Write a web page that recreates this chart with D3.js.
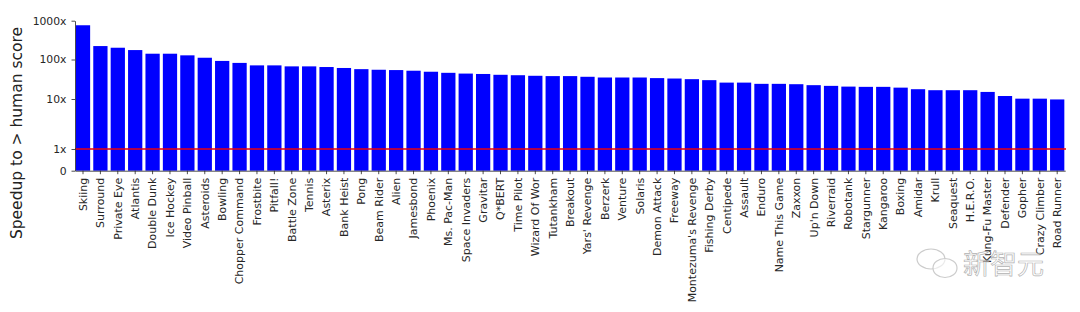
<!DOCTYPE html>
<html>
<head>
<meta charset="utf-8">
<script src="https://cdn.jsdelivr.net/npm/d3@7"></script>
<style>
    html, body { margin: 0; padding: 0; background: #fff; }
    svg { display: block; }
    text { font-family: "DejaVu Sans", sans-serif; }
    .axis path, .axis line { stroke: #222; stroke-width: 0.8px; }
    .axis text { fill: #262626; }
</style>
</head>
<body>
<div id="chart"></div>
<script>
////////DATA/////////
const games = ["Skiing","Surround","Private Eye","Atlantis","Double Dunk","Ice Hockey","Video Pinball","Asteroids","Bowling","Chopper Command",
    "Frostbite","Pitfall!","Battle Zone","Tennis","Asterix","Bank Heist","Pong","Beam Rider","Alien","Jamesbond",
    "Phoenix","Ms. Pac-Man","Space Invaders","Gravitar","Q*BERT","Time Pilot","Wizard Of Wor","Tutankham","Breakout","Yars' Revenge",
    "Berzerk","Venture","Solaris","Demon Attack","Freeway","Montezuma's Revenge","Fishing Derby","Centipede","Assault","Enduro",
    "Name This Game","Zaxxon","Up'n Down","Riverraid","Robotank","Stargunner","Kangaroo","Boxing","Amidar","Krull",
    "Seaquest","H.E.R.O.","Kung-Fu Master","Defender","Gopher","Crazy Climber","Road Runner"]
const speedups = [763,222,201,175,141,141,128,111,92,82,
    71,71,67,67,64.5,61,57,55,54,52,
    49,46,44,43,41,40,38.7,38,38,36.5,
    35,35,35,33.8,33,31.8,30,26,26,24.2,
    24.2,23.7,22.4,21.5,20.6,20.3,20.3,19.4,17.7,16.7,
    16.7,16.7,15.1,11.9,10.2,10.2,9.8]
const yTicks = [0,1,10,100,1000]
const humanLevel = 1

////////LAYOUT/////////
const width = 1080
const height = 312
const left = 75
const right = 1065.2
const lineEnd = 1066
const yTickPx = [170.7,149,99,59.5,20.7]

const svg = d3.select('#chart').append('svg')
    .attr('width',width)
    .attr('height',height)

// symlog style axis, 0 to 1 is linear and above 1 is log
function symlog(v){
    return v <= 1 ? v : 1 + Math.log10(v)
}

const x = d3.scaleBand().domain(games).range([left,right]).paddingInner(0.18).paddingOuter(0.05)
const y = d3.scaleLinear().domain(yTicks.map(symlog)).range(yTickPx)

////////BARS/////////
svg.append('g').selectAll('rect').data(games).enter().append('rect')
    .attr('x',d => x(d))
    .attr('y',(d,i) => y(symlog(speedups[i])))
    .attr('width',x.bandwidth())
    .attr('height',(d,i) => y(0) - y(symlog(speedups[i])))
    .attr('fill','#0000ff')

////////RED LINE AT HUMAN SCORE/////////
svg.append('line')
    .attr('x1',left)
    .attr('x2',lineEnd)
    .attr('y1',y(symlog(humanLevel)))
    .attr('y2',y(symlog(humanLevel)))
    .attr('stroke','#e8000b')
    .attr('stroke-width',1.6)

////////AXES/////////
const xAxis = svg.append('g').attr('class','axis')
    .attr('transform','translate(0,' + y(0) + ')')
    .call(d3.axisBottom(x).tickSize(3.5).tickPadding(3).tickSizeOuter(0))
xAxis.selectAll('text')
    .attr('transform','rotate(-90)')
    .attr('x',-7)
    .attr('y',0)
    .attr('dy','0.35em')
    .attr('text-anchor','end')
    .style('font-size','11px')

const yAxis = svg.append('g').attr('class','axis')
    .attr('transform','translate(' + left + ',0)')
    .call(d3.axisLeft(y)
        .tickValues(yTicks.map(symlog))
        .tickFormat((d,i) => yTicks[i] === 0 ? '0' : yTicks[i] + 'x')
        .tickSize(3.5).tickPadding(5).tickSizeOuter(0))
yAxis.selectAll('text').style('font-size','10.8px')

svg.append('text')
    .attr('transform','translate(22,133) rotate(-90)')
    .attr('text-anchor','middle')
    .style('font-size','15.5px')
    .attr('fill','#222')
    .text('Speedup to > human score')

////////WATERMARK/////////
const mark = svg.append('g').attr('opacity',0.75)
mark.append('ellipse').attr('cx',931).attr('cy',259).attr('rx',14).attr('ry',10)
    .attr('fill','rgba(255,255,255,0.6)').attr('stroke','#bbb').attr('stroke-width',1.2)
mark.append('ellipse').attr('cx',945).attr('cy',268).attr('rx',12).attr('ry',9.5)
    .attr('fill','rgba(255,255,255,0.6)').attr('stroke','#bbb').attr('stroke-width',1.2)
mark.append('text')
    .attr('x',963).attr('y',274)
    .style('font-family','"Noto Sans CJK SC"')
    .style('font-size','27px')
    .attr('fill','rgba(255,255,255,0.7)')
    .attr('stroke','#999')
    .attr('stroke-width',0.7)
    .text('新智元')
</script>
</body>
</html>
